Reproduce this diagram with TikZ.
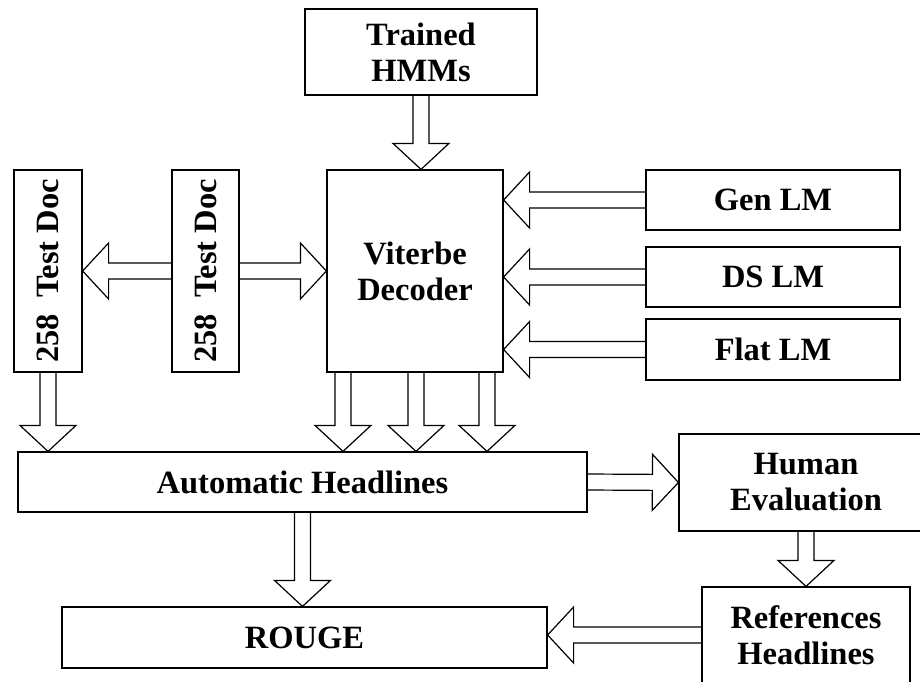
\documentclass[tikz,border=0pt]{standalone}
\usepackage{fontspec}
\setmainfont{Liberation Serif}
\usetikzlibrary{calc,backgrounds}

\tikzset{
  blk/.style={draw, line width=1.2pt, fill=white, align=center, inner sep=0pt,
    font=\bfseries\fontsize{32.5}{36}\selectfont},
  fat/.style={draw, line width=1.2pt, fill=white, line join=miter},
}
% hollow block arrow from #1 to #2
\newcommand{\fatarrow}[2]{%
  \draw[fat] let \p1=($(#2)-(#1)$), \n1={veclen(\x1,\y1)}, \n2={atan2(\y1,\x1)} in
    [shift={(#1)}, rotate=\n2]
    (0,-8) -- ({\n1-26},-8) -- ({\n1-26},-28) -- (\n1,0) -- ({\n1-26},28) -- ({\n1-26},8) -- (0,8);}

\begin{document}
\begin{tikzpicture}[x=1pt, y=-1pt]
    \useasboundingbox (0,0) rectangle (920,681);

    \node[blk, minimum width=232, minimum height=86] (hmm) at (421,52) {Trained\\HMMs};
    \node[blk, minimum width=176, minimum height=202] (vit) at (415,271) {Viterbe\\Decoder};
    \node[blk, minimum width=68, minimum height=202] (doca) at (48,271) {\rotatebox{90}{258\ \ Test Doc}};
    \node[blk, minimum width=67, minimum height=202] (docb) at (205.5,271) {\rotatebox{90}{258\ \ Test Doc}};

    \node[blk, minimum width=254, minimum height=60] (gen) at (773,200) {Gen LM};
    \node[blk, minimum width=254, minimum height=60] (ds) at (773,277) {DS LM};
    \node[blk, minimum width=254, minimum height=61] (flat) at (773,349.5) {Flat LM};

    \node[blk, minimum width=569, minimum height=60] (auto) at (302.5,482) {Automatic Headlines};
    \node[blk, minimum width=254, minimum height=97] (human) at (806,482.5) {Human\\Evaluation};
    \node[blk, minimum width=208, minimum height=96] (ref) at (806,635) {References\\Headlines};
    \node[blk, minimum width=485, minimum height=61] (rouge) at (304.5,637.5) {ROUGE};

    \begin{scope}[on background layer]
      \fatarrow{hmm.south}{hmm.south |- vit.north}
      \fatarrow{docb.west}{doca.east}
      \fatarrow{docb.east}{vit.west}
      \fatarrow{doca.south}{doca.south |- auto.north}
      \foreach \dx in {-72,1,72} {
        \coordinate (vs) at ([xshift=\dx]vit.south);
        \fatarrow{vs}{vs |- auto.north}
      }
      \foreach \lm in {gen,ds,flat} {
        \fatarrow{\lm.west}{\lm.west -| vit.east}
      }
      \fatarrow{auto.east}{human.west}
      \fatarrow{human.south}{ref.north}
      \fatarrow{ref.west}{ref.west -| rouge.east}
      \fatarrow{auto.south}{auto.south |- rouge.north}
    \end{scope}
\end{tikzpicture}
\end{document}
